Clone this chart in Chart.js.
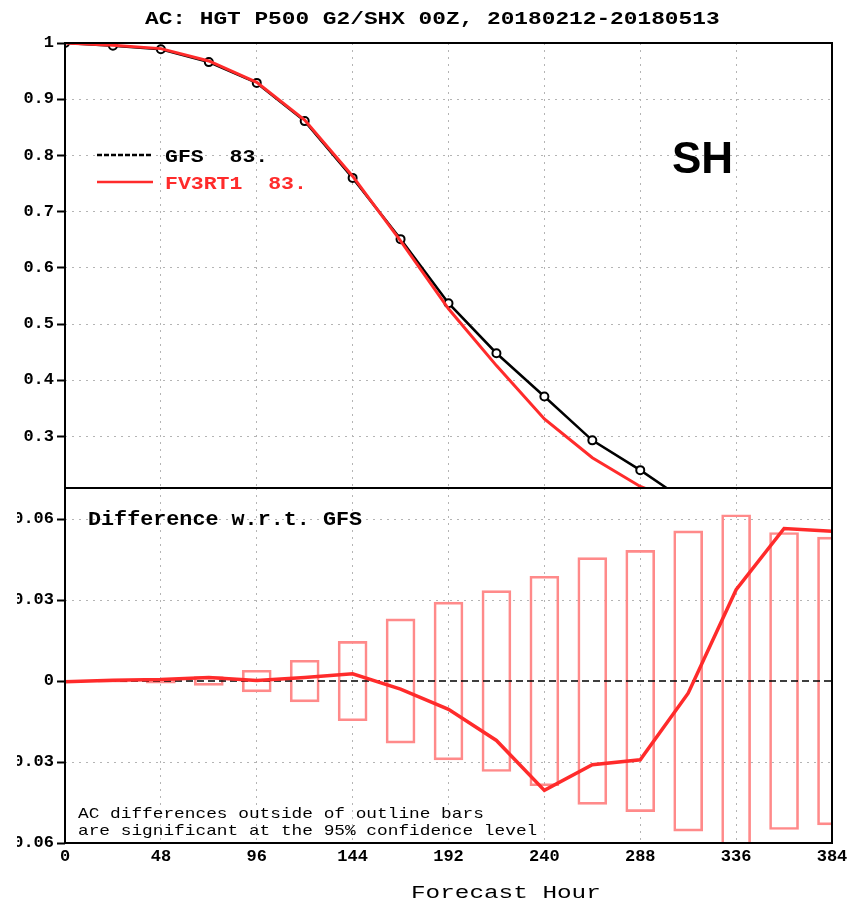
<!DOCTYPE html>
<html>
<head>
<meta charset="utf-8">
<title>AC: HGT P500 G2/SHX 00Z</title>
<script src="https://cdn.jsdelivr.net/npm/chart.js@4.4.1/dist/chart.umd.min.js"></script>
<style>
  html, body { margin: 0; padding: 0; background: #fff; }
  #wrap { position: relative; width: 851px; height: 901px; overflow: hidden; background: #fff; }
  #acChart { position: absolute; left: 0; top: 0; }
  #diffChart { position: absolute; left: 17px; top: 488px; }
</style>
</head>
<body>
<div id="wrap">
  <canvas id="acChart" width="851" height="490"></canvas>
  <canvas id="diffChart" width="834" height="413"></canvas>
</div>
<script>
// ---- data ----
const titleText = 'AC: HGT P500 G2/SHX 00Z, 20180212-20180513';
const regionLabel = 'SH';
const modelNames = ['GFS', 'FV3RT1'];
const modelMeans = ['83.', '83.'];

const forecastHours = [0, 24, 48, 72, 96, 120, 144, 168, 192, 216, 240, 264, 288, 312];
const gfsScores = [1.000, 0.995, 0.989, 0.966, 0.929, 0.861, 0.760, 0.651, 0.537, 0.448, 0.371, 0.293, 0.240, 0.182];
const fv3Scores = [1.000, 0.996, 0.990, 0.968, 0.930, 0.863, 0.763, 0.648, 0.527, 0.426, 0.331, 0.262, 0.211, 0.178];

const diffHours = [0, 24, 48, 72, 96, 120, 144, 168, 192, 216, 240, 264, 288, 312, 336, 360, 384];
const diffValues = [-0.0003, 0.0003, 0.0006, 0.0013, 0.0002, 0.0013, 0.0027, -0.0030, -0.0105, -0.0220, -0.0405,
                    -0.0310, -0.0292, -0.0045, 0.0338, 0.0565, 0.0555];

// half-height of the 95% confidence outline bars
const barHours = [24, 48, 72, 96, 120, 144, 168, 192, 216, 240, 264, 288, 312, 336, 360, 384];
const barHalfWidths = [0.0004, 0.0008, 0.0016, 0.0040, 0.0077, 0.0147, 0.0230, 0.0292, 0.0335, 0.0388,
                       0.0457, 0.0484, 0.0556, 0.0616, 0.0550, 0.0533];

const hourTicks = [0, 48, 96, 144, 192, 240, 288, 336, 384];
const acTicks = [0.3, 0.4, 0.5, 0.6, 0.7, 0.8, 0.9, 1];
const diffTicks = [-0.06, -0.03, 0, 0.03, 0.06];

const RED = '#ff2b2b';
const BAR_RED = '#ff8a8a';
const GRID = '#b4b4b4';
const MONO = '"Liberation Mono", "DejaVu Sans Mono", monospace';

Chart.defaults.font.family = MONO;
Chart.defaults.color = '#000';

// draw text squeezed/stretched horizontally to a given width per character
function stretchText(ctx, str, x, y, font, color, charWidth) {
  ctx.save();
  ctx.font = font;
  ctx.fillStyle = color;
  ctx.textAlign = 'left';
  ctx.textBaseline = 'alphabetic';
  const natural = ctx.measureText(str).width / str.length;
  ctx.translate(x, y);
  ctx.scale(charWidth / natural, 1);
  ctx.fillText(str, 0, 0);
  ctx.restore();
}

function frame(chart) {
  const a = chart.chartArea;
  const ctx = chart.ctx;
  ctx.save();
  ctx.strokeStyle = '#000';
  ctx.lineWidth = 2;
  ctx.strokeRect(a.left, a.top, a.right - a.left, a.bottom - a.top);
  ctx.restore();
}

function fixWidth(w) {
  return function(scale) {
    scale.width = w;
    scale.paddingTop = 0;
    scale.paddingBottom = 0;
  };
}
function fixHeight(h) {
  return function(scale) {
    scale.height = h;
    scale.paddingLeft = 0;
    scale.paddingRight = 0;
  };
}

// ---- upper panel: anomaly correlation ----
const upperDecor = {
  id: 'upperDecor',
  afterDraw(chart) {
    const ctx = chart.ctx;
    frame(chart);
    stretchText(ctx, titleText, 145, 24, 'bold 18px ' + MONO, '#000', 13.68);

    const legendY = [155, 182];
    const legendDash = [[5, 2], []];
    chart.data.datasets.forEach(ds => {
      const k = modelNames.indexOf(ds.label);
      ctx.save();
      ctx.strokeStyle = ds.borderColor;
      ctx.lineWidth = 2.5;
      ctx.setLineDash(legendDash[k]);
      ctx.beginPath();
      ctx.moveTo(97, legendY[k]);
      ctx.lineTo(153, legendY[k]);
      ctx.stroke();
      ctx.restore();
      stretchText(ctx, modelNames[k] + '  ' + modelMeans[k], 165, legendY[k] + 6.5,
                  'bold 19px ' + MONO, ds.borderColor, 12.9);
    });

    ctx.save();
    ctx.font = 'bold 44px "Liberation Sans", Arial, sans-serif';
    ctx.fillStyle = '#000';
    ctx.fillText(regionLabel, 672, 173);
    ctx.restore();
  }
};

new Chart(document.getElementById('acChart'), {
  type: 'line',
  data: {
    datasets: [
      {
        label: 'FV3RT1',
        data: forecastHours.map((h, i) => ({ x: h, y: fv3Scores[i] })),
        borderColor: RED,
        borderWidth: 3,
        pointRadius: 0,
        tension: 0,
        order: 0
      },
      {
        label: 'GFS',
        data: forecastHours.map((h, i) => ({ x: h, y: gfsScores[i] })),
        borderColor: '#000',
        borderWidth: 2.5,
        pointRadius: 4,
        pointStyle: 'circle',
        pointBorderColor: '#000',
        pointBackgroundColor: '#fff',
        pointBorderWidth: 2,
        tension: 0,
        order: 1
      }
    ]
  },
  options: {
    responsive: false,
    animation: false,
    devicePixelRatio: 1,
    events: [],
    layout: { autoPadding: false, padding: { top: 43, right: 19, bottom: 2, left: 0 } },
    plugins: { legend: { display: false }, tooltip: { enabled: false } },
    scales: {
      x: {
        type: 'linear',
        min: 0,
        max: 384,
        afterBuildTicks: s => { s.ticks = hourTicks.map(v => ({ value: v })); },
        afterFit: fixHeight(0),
        ticks: { display: false },
        grid: { color: GRID, lineWidth: 1, drawTicks: false },
        border: { display: false, dash: [2, 5] }
      },
      y: {
        min: 0.2082,
        max: 1,
        afterBuildTicks: s => { s.ticks = acTicks.map(v => ({ value: v })); },
        afterFit: fixWidth(65),
        ticks: {
          font: { size: 17, weight: 'bold' },
          padding: 3,
          callback: v => String(Number(v.toFixed(1)))
        },
        grid: { color: GRID, lineWidth: 1, tickLength: 8, tickColor: '#000', tickWidth: 2 },
        border: { display: false, dash: [2, 5] }
      }
    }
  },
  plugins: [upperDecor]
});

// ---- lower panel: difference w.r.t. GFS ----
const OX = 17, OY = 488; // page offset of the lower canvas
const lowerDecor = {
  id: 'lowerDecor',
  afterDraw(chart) {
    const ctx = chart.ctx;
    frame(chart);
    stretchText(ctx, 'Difference w.r.t. GFS', 88 - OX, 525 - OY, 'bold 20px ' + MONO, '#000', 13.05);
    stretchText(ctx, 'AC differences outside of outline bars', 78 - OX, 818 - OY, '15px ' + MONO, '#000', 10.68);
    stretchText(ctx, 'are significant at the 95% confidence level', 78 - OX, 835 - OY, '15px ' + MONO, '#000', 10.68);
    stretchText(ctx, 'Forecast Hour', 411 - OX, 898 - OY, '19px ' + MONO, '#000', 14.6);
  }
};

new Chart(document.getElementById('diffChart'), {
  type: 'line',
  data: {
    datasets: [
      {
        label: 'FV3RT1 - GFS',
        data: diffHours.map((h, i) => ({ x: h, y: diffValues[i] })),
        borderColor: RED,
        borderWidth: 3.5,
        pointRadius: 0,
        tension: 0,
        order: 0
      },
      {
        label: 'zero',
        data: [{ x: diffHours[0], y: 0 }, { x: diffHours[diffHours.length - 1], y: 0 }],
        borderColor: '#000',
        borderWidth: 1.5,
        borderDash: [7, 4],
        pointRadius: 0,
        order: 1
      },
      {
        type: 'bar',
        label: '95% confidence',
        data: barHours.map((h, i) => ({ x: h, y: [-barHalfWidths[i], barHalfWidths[i]] })),
        backgroundColor: 'rgba(0,0,0,0)',
        borderColor: BAR_RED,
        borderWidth: 2,
        borderSkipped: false,
        barThickness: 29,
        clip: 0,
        order: 2
      }
    ]
  },
  options: {
    responsive: false,
    animation: false,
    devicePixelRatio: 1,
    events: [],
    layout: { autoPadding: false, padding: { top: 0, right: 19, bottom: 0, left: 0 } },
    plugins: { legend: { display: false }, tooltip: { enabled: false } },
    scales: {
      x: {
        type: 'linear',
        min: 0,
        max: 384,
        offset: false,
        afterBuildTicks: s => { s.ticks = hourTicks.map(v => ({ value: v })); },
        afterFit: fixHeight(58),
        ticks: { font: { size: 17, weight: 'bold' }, padding: 4, maxRotation: 0 },
        grid: { color: GRID, lineWidth: 1, drawTicks: false, offset: false },
        border: { display: false, dash: [2, 5] }
      },
      y: {
        min: -0.06,
        max: 0.0715,
        afterBuildTicks: s => { s.ticks = diffTicks.map(v => ({ value: v })); },
        afterFit: fixWidth(48),
        ticks: {
          font: { size: 17, weight: 'bold' },
          padding: 3,
          callback: v => (v === 0 ? '0' : v.toFixed(2))
        },
        grid: {
          color: ctx => (ctx.tick && ctx.tick.value === 0 ? 'rgba(0,0,0,0)' : GRID),
          lineWidth: 1, tickLength: 8, tickColor: '#000', tickWidth: 2
        },
        border: { display: false, dash: [2, 5] }
      }
    }
  },
  plugins: [lowerDecor]
});
</script>
</body>
</html>
